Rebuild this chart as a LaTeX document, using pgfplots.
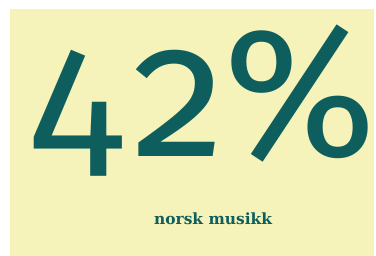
\documentclass[border=0pt]{standalone}
\usepackage{pgfplots}
\pgfplotsset{compat=1.18}
\usepackage{fontspec}
\setmainfont{Fira Sans}
\newfontfamily\bignum[Numbers=OldStyle]{Fira Sans}
\newfontfamily\slab{DejaVu Serif}
\definecolor{bgyellow}{RGB}{246,243,186}
\definecolor{teal}{RGB}{14,94,94}
\begin{document}
\begin{tikzpicture}
\begin{axis}[
  width=376pt, height=257pt, scale only axis,
  xmin=0, xmax=376, ymin=0, ymax=257,
  hide axis, clip=false,
]
\fill[white] (axis cs:0,0) rectangle (axis cs:376,257);
\fill[bgyellow] (axis cs:10,0) rectangle (axis cs:376,248);
\node[anchor=base west, inner sep=0pt, text=teal, font=\bignum\fontsize{186}{186}\selectfont]
  at (axis cs:30,100) {4\kern12pt 2\kern-2pt\%};
\node[anchor=base, inner sep=0pt, text=teal, font=\slab\bfseries\fontsize{15.5}{15.5}\selectfont]
  at (axis cs:214,32) {norsk musikk};
\end{axis}
\end{tikzpicture}
\end{document}
